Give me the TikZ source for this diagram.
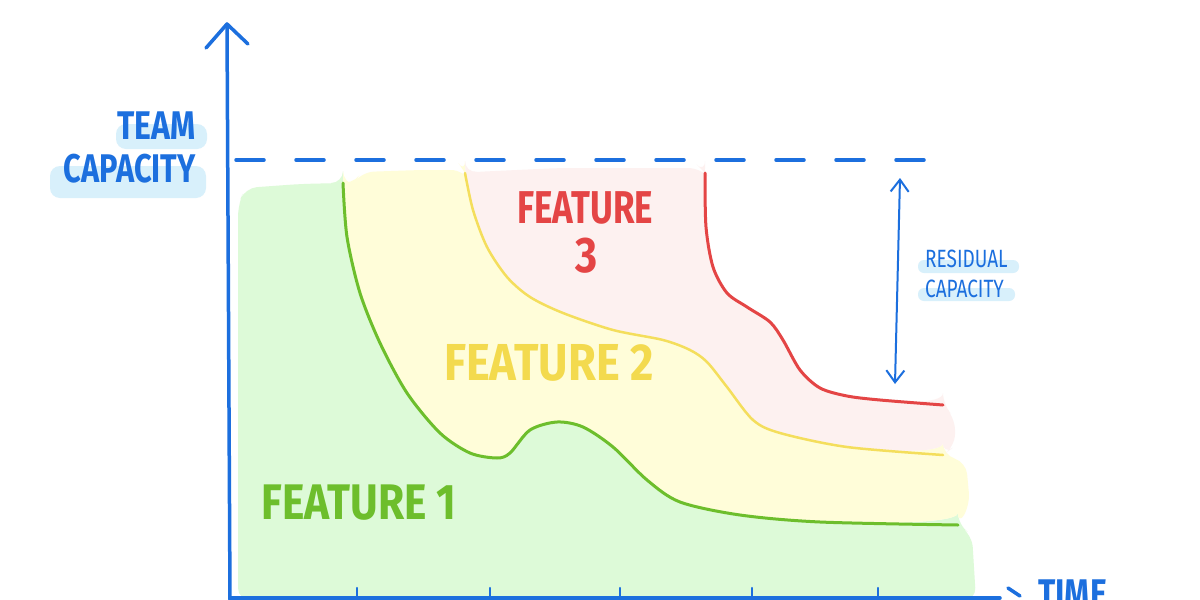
\documentclass[tikz,border=0pt]{standalone}
\usepackage{fontspec}
\setmainfont{Fira Sans}
\usetikzlibrary{arrows.meta}
\definecolor{axisblue}{HTML}{1C6FDE}
\definecolor{hlblue}{HTML}{D8F0FB}
\definecolor{greenfill}{HTML}{DDFAD8}
\definecolor{greenline}{HTML}{6DBE2C}
\definecolor{yellowfill}{HTML}{FFFDD9}
\definecolor{yellowline}{HTML}{F4DE5C}
\definecolor{yellowtext}{HTML}{F3DA4E}
\definecolor{pinkfill}{HTML}{FDF1F0}
\definecolor{redline}{HTML}{E44545}
\tikzset{
  axisline/.style={draw=axisblue, line width=3.5pt, line cap=round, line join=round},
  curveline/.style={line width=3pt, line cap=round, line join=round},
  lbl/.style={inner sep=0pt},
  smalllbl/.style={font=\fontsize{25}{25}\selectfont, inner sep=0pt, text=axisblue},
  hl/.style={fill=hlblue, rounded corners=10pt}
}
\newcommand{\hand}[3]{{\fontsize{#1}{#1}\selectfont\bfseries\scalebox{#2}[1]{#3}}}
\def\greenpts{(343,183) (347,237) (360,293) (380,343) (407,393) (440,433) (470,453) (497,458) (510,453) (530,430) (557,422) (583,427) (613,447) (647,480) (680,502) (740,515) (820,522) (958,525)}
\def\greenrev{(958,525) (820,522) (740,515) (680,502) (647,480) (613,447) (583,427) (557,422) (530,430) (510,453) (497,458) (470,453) (440,433) (407,393) (380,343) (360,293) (347,237) (343,183)}
\def\yellowpts{(465,173) (473,210) (487,247) (507,277) (530,297) (563,313) (613,330) (663,340) (690,350) (707,362) (727,387) (753,420) (780,433) (847,447) (943,455)}
\def\yellowrev{(943,455) (847,447) (780,433) (753,420) (727,387) (707,362) (690,350) (663,340) (613,330) (563,313) (530,297) (507,277) (487,247) (473,210) (465,173)}
\def\redpts{(705,173) (706,227) (713,267) (727,293) (747,307) (770,322) (783,340) (800,370) (820,388) (847,396) (880,400) (943,405)}
\begin{document}
\begin{tikzpicture}[x=1pt,y=-1pt]
\useasboundingbox (0,0) rectangle (1200,600);
\fill[white] (0,0) rectangle (1200,600);
% highlights
\fill[hl] (116,124) rectangle (207,149);
\fill[hl] (50,166) rectangle (206,198);
\fill[hl,rounded corners=6pt] (918,260) rectangle (1019,273);
\fill[hl,rounded corners=6pt] (918,288) rectangle (1015,301);
% green fill
\fill[greenfill, rounded corners=12pt] (238,205) -- (245,188) -- (300,184) -- (341,183)
  -- plot[smooth] coordinates {\greenpts}
  -- (972,535) -- (976,600) -- (238,600) -- cycle;
% yellow fill
\fill[yellowfill, rounded corners=12pt] (352,185) -- (362,172) -- (420,170) -- (463,170)
  -- plot[smooth] coordinates {\yellowpts}
  -- (966,462) -- (970,505) -- (958,525)
  -- plot[smooth] coordinates {\greenrev}
  -- cycle;
% pink fill
\fill[pinkfill, rounded corners=12pt] (474,172) -- (560,168) -- (700,168)
  -- plot[smooth] coordinates {\redpts}
  -- (955,418) -- (955,446) -- (943,455)
  -- plot[smooth] coordinates {\yellowrev}
  -- cycle;
% curves
\draw[curveline, greenline] plot[smooth] coordinates {\greenpts};
\draw[curveline, yellowline, line width=2.5pt] plot[smooth] coordinates {\yellowpts};
\draw[curveline, redline] plot[smooth] coordinates {\redpts};
% axes
\coordinate (ytop) at (227,24);
\coordinate (ybot) at (230,600);
\draw[axisline] (ytop) -- (ybot);
\draw[axisline] (206,48) -- (ytop) -- (248,44);
\coordinate (xl) at (230,598);
\coordinate (xr) at (1000,598);
\draw[axisline] (xl) -- (xr);
\draw[axisline] (1008,588) -- (1020,596);
\foreach \x in {357,490,620,752,878} \draw[axisline, line width=2.5pt] (\x,588) -- (\x,600);
% capacity dashed line
\coordinate (dl) at (236,160);
\coordinate (dr) at (945,160);
\draw[axisline, dash pattern=on 28pt off 32pt] (dl) -- (dr);
% residual capacity arrow
\coordinate (rt) at (900,178);
\coordinate (rb) at (895,384);
\draw[axisline, line width=2pt, {Straight Barb[length=12pt,width=18pt,line width=2pt]}-{Straight Barb[length=12pt,width=18pt,line width=2pt]}] (rt) -- (rb);
% labels
\node[lbl, text=axisblue, anchor=east] (team) at (196,126) {\hand{40}{0.8}{TEAM}};
\node[lbl, text=axisblue, anchor=east] (cap) at (196,169) {\hand{40}{0.77}{CAPACITY}};
\node[smalllbl, anchor=west] (res) at (925,259) {\scalebox{0.76}[1]{RESIDUAL}};
\node[smalllbl, anchor=west] (rcap) at (925,289) {\scalebox{0.76}[1]{CAPACITY}};
\node[lbl, text=redline] (f3) at (585,208) {\hand{46}{0.76}{FEATURE}};
\node[lbl, text=redline] (f3n) at (587,256) {\hand{50}{0.85}{3}};
\node[lbl, text=yellowtext] (f2) at (549,363) {\hand{52}{0.87}{FEATURE 2}};
\node[lbl, text=greenline] (f1) at (359,503) {\hand{50}{0.85}{FEATURE 1}};
\node[lbl, text=axisblue, anchor=north west] (time) at (1038,580) {\hand{40}{0.8}{TIME}};
\end{tikzpicture}
\end{document}
